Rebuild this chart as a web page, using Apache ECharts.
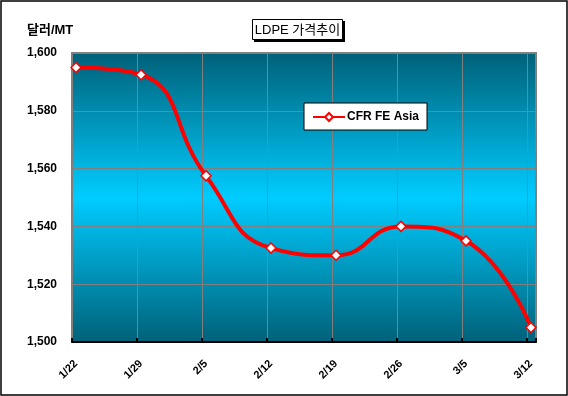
<!DOCTYPE html>
<html><head><meta charset="utf-8">
<script src="https://cdn.jsdelivr.net/npm/echarts@6/dist/echarts.min.js"></script>
<style>html,body{margin:0;padding:0;background:#fff}#c{width:568px;height:396px}</style>
</head><body><div id="c"></div>
<script>
const categories = ['1/22','1/29','2/5','2/12','2/19','2/26','3/5','3/12'];
const cfrFeAsia = [1595, 1592.5, 1557.5, 1532.5, 1530, 1540, 1535, 1505];
const seriesName = 'CFR FE Asia';
const titleText = 'LDPE 가격추이';
const yUnit = '달러/MT';

const chart = echarts.init(document.getElementById('c'), null, {renderer:'canvas'});
const font = '"Liberation Sans", Arial, "Noto Sans CJK KR", sans-serif';
const bg = new echarts.graphic.LinearGradient(0,0,0,1,[
  {offset:0,color:'#006078'},
  {offset:0.5,color:'#00ccff'},
  {offset:1,color:'#006078'}
]);
chart.setOption({
  animation:false,
  textStyle:{fontFamily:font},
  grid:[
    {left:72,top:53,right:32,bottom:54,show:true,backgroundColor:bg,borderColor:'#808080',borderWidth:2},
    {left:76,top:53,right:37,bottom:54,show:false}
  ],
  legend:{
    data:[seriesName], left:304, top:103, width:130, height:28,
    backgroundColor:'#fff', borderColor:'#000', borderWidth:1, padding:[8,8,7,8],
    itemWidth:32, itemHeight:10, itemGap:2,
    textStyle:{fontFamily:font,fontSize:12,fontWeight:'bold',color:'#000',padding:[0,0,0,-3]}
  },
  xAxis:[
    {type:'value', gridIndex:0, min:0, max:464/65, interval:1,
     axisLine:{show:true,onZero:false,lineStyle:{color:'#000',width:2}},
     axisTick:{show:true,inside:true,length:4,lineStyle:{color:'#000',width:2}},
     axisLabel:{show:false},
     splitLine:{show:true,lineStyle:{color:'#808080',width:1}}},
    {type:'category', gridIndex:1, data:categories, boundaryGap:false,
     axisLine:{show:false}, axisTick:{show:false}, splitLine:{show:false},
     axisLabel:{rotate:45, margin:20, fontSize:11, fontWeight:'bold', color:'#000', fontFamily:font, interval:0}}
  ],
  yAxis:[
    {type:'value', gridIndex:0, min:1500, max:1600, interval:20,
     axisLine:{show:true,lineStyle:{color:'#808080',width:2}},
     axisTick:{show:false},
     axisLabel:{margin:15, fontSize:12, fontWeight:'bold', color:'#000', fontFamily:font,
       formatter:v => v.toLocaleString('en-US')},
     splitLine:{lineStyle:{color:'#808080',width:1}}},
    {type:'value', gridIndex:1, min:1500, max:1600, interval:20, show:false}
  ],
  series:[{
    name:seriesName, type:'line', xAxisIndex:1, yAxisIndex:1, smooth:0.5,
    data:cfrFeAsia,
    lineStyle:{color:'#ff0000',width:4},
    itemStyle:{color:'#fff',borderColor:'#ff0000',borderWidth:1.5},
    symbol:'diamond', symbolSize:10, showAllSymbol:true, z:5
  }],
  graphic:[
    {type:'rect', shape:{x:1,y:1,width:566,height:394}, style:{fill:null,stroke:'#000',lineWidth:1.5}, silent:true},
    {type:'text', left:27, top:24, style:{text:yUnit, font:'bold 13px '+font, fill:'#000'}},
    {type:'rect', shape:{x:254,y:21,width:91,height:21}, style:{fill:'#000'}},
    {type:'rect', shape:{x:252.5,y:19.5,width:90,height:20}, style:{fill:'#fff',stroke:'#000',lineWidth:1}},
    {type:'text', x:297.5, y:30, style:{text:titleText, font:'13px '+font, fill:'#000', textAlign:'center', textVerticalAlign:'middle'}}
  ]
});
</script></body></html>
